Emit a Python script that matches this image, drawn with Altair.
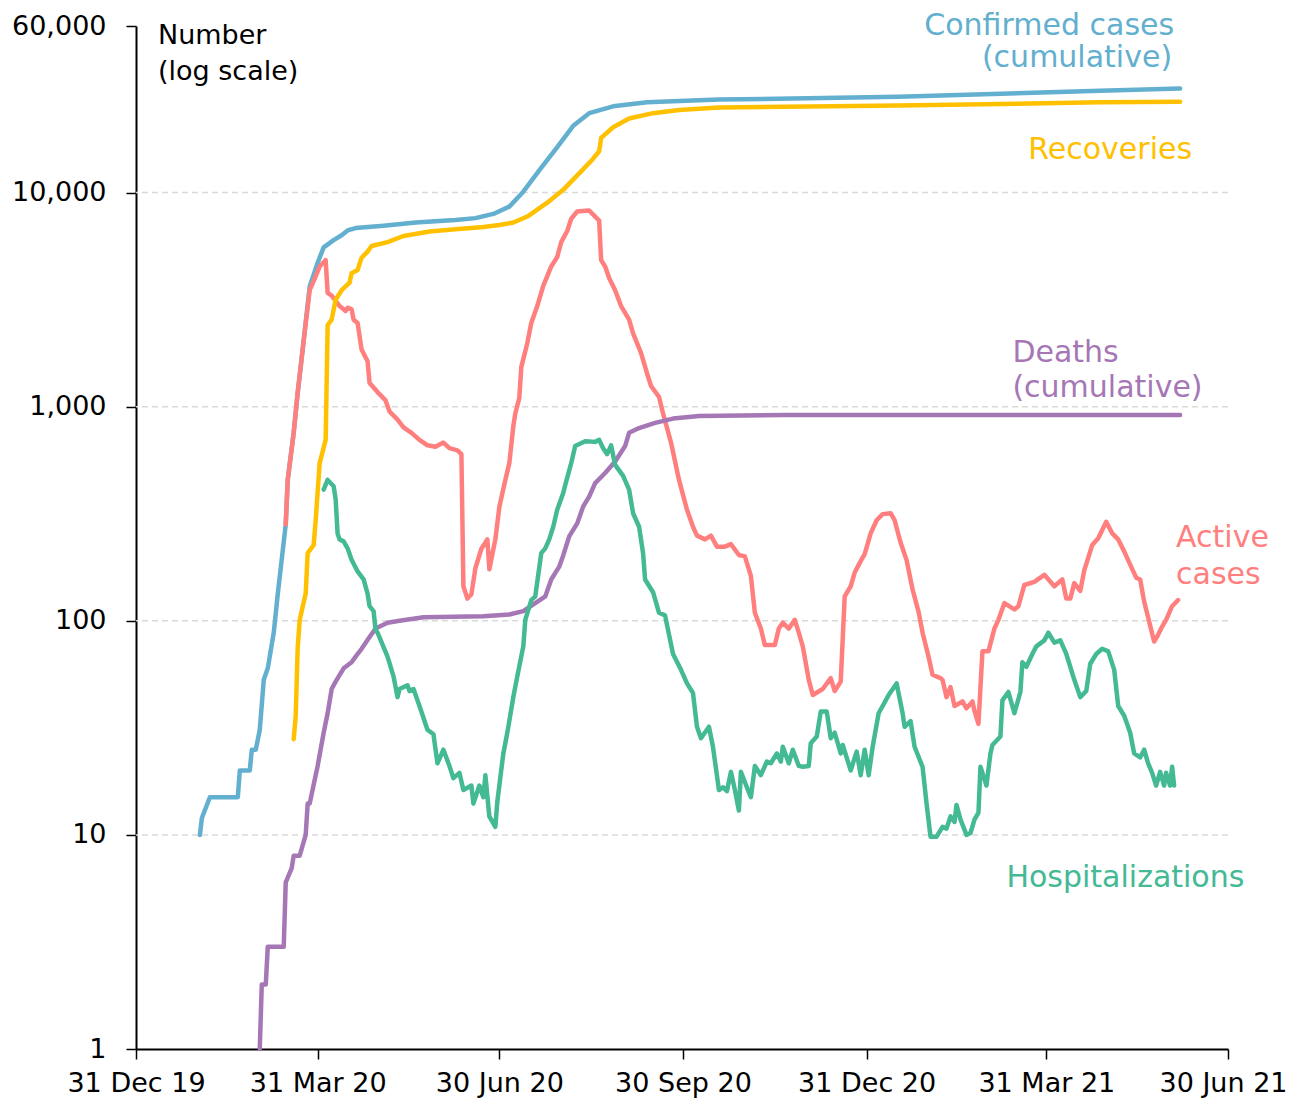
import altair as alt
import pandas as pd

FONT = "DejaVu Sans"

# ---------------- data ----------------
confirmed = [
    ("2020-02-01", 10), ("2020-02-02", 12), ("2020-02-06", 15), ("2020-02-20", 15),
    ("2020-02-21", 20), ("2020-02-26", 20), ("2020-02-27", 25), ("2020-02-29", 25),
    ("2020-03-02", 31), ("2020-03-04", 53), ("2020-03-06", 60), ("2020-03-09", 88),
    ("2020-03-11", 133), ("2020-03-15", 282), ("2020-03-16", 455), ("2020-03-19", 760),
    ("2020-03-21", 1160), ("2020-03-24", 2040), ("2020-03-27", 3640), ("2020-03-31", 4700),
    ("2020-04-03", 5550), ("2020-04-08", 6000), ("2020-04-12", 6320), ("2020-04-15", 6660),
    ("2020-04-19", 6830), ("2020-05-03", 7000), ("2020-05-19", 7250), ("2020-06-08", 7440),
    ("2020-06-18", 7600), ("2020-06-27", 7950), ("2020-07-05", 8600), ("2020-07-12", 10100),
    ("2020-07-20", 12700), ("2020-07-29", 16300), ("2020-08-06", 20500), ("2020-08-14", 23500),
    ("2020-08-26", 25300), ("2020-09-12", 26400), ("2020-10-18", 27200), ("2021-01-16", 28000),
    ("2021-04-27", 29900), ("2021-06-06", 30600),
]

recoveries = [
    ("2020-03-19", 28), ("2020-03-20", 36), ("2020-03-21", 75), ("2020-03-22", 101),
    ("2020-03-25", 134), ("2020-03-26", 207), ("2020-03-29", 226), ("2020-03-30", 295),
    ("2020-04-01", 545), ("2020-04-04", 700), ("2020-04-05", 2400), ("2020-04-07", 2550),
    ("2020-04-09", 3160), ("2020-04-12", 3500), ("2020-04-16", 3800), ("2020-04-17", 4200),
    ("2020-04-20", 4350), ("2020-04-22", 4960), ("2020-04-25", 5300), ("2020-04-27", 5630),
    ("2020-05-05", 5870), ("2020-05-13", 6270), ("2020-05-26", 6580), ("2020-06-08", 6750),
    ("2020-06-22", 6900), ("2020-06-30", 7060), ("2020-07-05", 7190), ("2020-07-07", 7250),
    ("2020-07-14", 7730), ("2020-07-24", 8970), ("2020-08-01", 10300), ("2020-08-09", 12300),
    ("2020-08-16", 14400), ("2020-08-19", 15600), ("2020-08-20", 18000), ("2020-08-26", 20200),
    ("2020-09-03", 22200), ("2020-09-15", 23500), ("2020-09-28", 24300), ("2020-10-18", 25000),
    ("2021-01-16", 25500), ("2021-04-27", 26400), ("2021-06-06", 26600),
]

deaths = [
    ("2020-03-02", 1), ("2020-03-03", 2), ("2020-03-05", 2), ("2020-03-06", 3),
    ("2020-03-14", 3), ("2020-03-15", 6), ("2020-03-18", 7), ("2020-03-19", 8),
    ("2020-03-22", 8), ("2020-03-25", 10), ("2020-03-26", 14), ("2020-03-27", 14),
    ("2020-03-30", 19), ("2020-03-31", 21), ("2020-04-03", 30), ("2020-04-05", 37),
    ("2020-04-07", 48), ("2020-04-09", 52), ("2020-04-13", 60), ("2020-04-17", 64),
    ("2020-04-19", 68), ("2020-04-22", 74), ("2020-04-26", 84), ("2020-04-29", 92),
    ("2020-05-05", 98), ("2020-05-11", 100), ("2020-05-23", 104), ("2020-06-22", 105),
    ("2020-07-05", 107), ("2020-07-12", 111), ("2020-07-18", 121), ("2020-07-23", 130),
    ("2020-07-26", 156), ("2020-07-30", 179), ("2020-08-01", 202), ("2020-08-04", 248),
    ("2020-08-08", 285), ("2020-08-11", 342), ("2020-08-14", 380), ("2020-08-17", 440),
    ("2020-08-22", 490), ("2020-08-27", 555), ("2020-09-01", 655), ("2020-09-03", 755),
    ("2020-09-08", 795), ("2020-09-16", 840), ("2020-09-25", 880), ("2020-10-08", 905),
    ("2020-11-19", 915), ("2021-04-02", 915), ("2021-06-06", 915),
]

active = [
    ("2020-03-15", 282), ("2020-03-16", 455), ("2020-03-19", 755), ("2020-03-21", 1170),
    ("2020-03-24", 2040), ("2020-03-27", 3500), ("2020-03-30", 4060), ("2020-04-01", 4520),
    ("2020-04-04", 4840), ("2020-04-05", 3400), ("2020-04-07", 3300), ("2020-04-11", 2950),
    ("2020-04-14", 2800), ("2020-04-15", 2900), ("2020-04-17", 2850), ("2020-04-18", 2550),
    ("2020-04-20", 2460), ("2020-04-22", 1850), ("2020-04-25", 1630), ("2020-04-26", 1290),
    ("2020-04-30", 1170), ("2020-05-04", 1070), ("2020-05-06", 950), ("2020-05-10", 870),
    ("2020-05-13", 800), ("2020-05-17", 755), ("2020-05-21", 700), ("2020-05-25", 660),
    ("2020-05-29", 650), ("2020-06-02", 680), ("2020-06-05", 640), ("2020-06-09", 625),
    ("2020-06-11", 600), ("2020-06-12", 145), ("2020-06-14", 127), ("2020-06-16", 133),
    ("2020-06-18", 176), ("2020-06-21", 217), ("2020-06-24", 240), ("2020-06-25", 174),
    ("2020-06-28", 240), ("2020-06-30", 340), ("2020-07-03", 455), ("2020-07-05", 545),
    ("2020-07-07", 810), ("2020-07-08", 930), ("2020-07-10", 1100), ("2020-07-11", 1530),
    ("2020-07-14", 1980), ("2020-07-16", 2460), ("2020-07-19", 2950), ("2020-07-22", 3670),
    ("2020-07-26", 4520), ("2020-07-29", 5000), ("2020-07-31", 5870), ("2020-08-03", 6620),
    ("2020-08-05", 7550), ("2020-08-08", 8160), ("2020-08-14", 8250), ("2020-08-19", 7400),
    ("2020-08-20", 4840), ("2020-08-22", 4520), ("2020-08-24", 3990), ("2020-08-27", 3500),
    ("2020-08-30", 2950), ("2020-09-03", 2550), ("2020-09-05", 2200), ("2020-09-09", 1780),
    ("2020-09-12", 1430), ("2020-09-14", 1250), ("2020-09-18", 1110), ("2020-09-20", 930),
    ("2020-09-24", 680), ("2020-09-28", 455), ("2020-10-02", 330), ("2020-10-05", 275),
    ("2020-10-07", 250), ("2020-10-11", 240), ("2020-10-14", 250), ("2020-10-17", 222),
    ("2020-10-21", 222), ("2020-10-24", 228), ("2020-10-28", 203), ("2020-10-31", 200),
    ("2020-11-03", 162), ("2020-11-05", 109), ("2020-11-08", 92), ("2020-11-10", 77),
    ("2020-11-15", 77), ("2020-11-17", 92), ("2020-11-19", 98), ("2020-11-22", 92),
    ("2020-11-25", 101), ("2020-11-27", 88), ("2020-11-29", 76), ("2020-12-02", 53),
    ("2020-12-04", 45), ("2020-12-09", 48), ("2020-12-13", 54), ("2020-12-15", 47),
    ("2020-12-18", 52), ("2020-12-20", 130), ("2020-12-23", 145), ("2020-12-25", 168),
    ("2020-12-28", 190), ("2020-12-30", 205), ("2021-01-02", 256), ("2021-01-05", 295),
    ("2021-01-08", 315), ("2021-01-12", 318), ("2021-01-14", 295), ("2021-01-17", 232),
    ("2021-01-20", 192), ("2021-01-23", 140), ("2021-01-26", 110), ("2021-01-28", 88),
    ("2021-01-31", 68), ("2021-02-02", 56), ("2021-02-06", 54), ("2021-02-07", 53),
    ("2021-02-09", 44), ("2021-02-11", 49), ("2021-02-13", 40), ("2021-02-17", 42),
    ("2021-02-19", 39), ("2021-02-22", 42), ("2021-02-23", 38), ("2021-02-25", 33),
    ("2021-02-27", 72), ("2021-03-02", 72), ("2021-03-05", 92), ("2021-03-07", 101),
    ("2021-03-10", 121), ("2021-03-15", 113), ("2021-03-17", 117), ("2021-03-20", 147),
    ("2021-03-25", 152), ("2021-03-30", 164), ("2021-04-04", 145), ("2021-04-08", 156),
    ("2021-04-10", 127), ("2021-04-12", 127), ("2021-04-14", 150), ("2021-04-17", 138),
    ("2021-04-19", 172), ("2021-04-23", 226), ("2021-04-26", 243), ("2021-04-30", 290),
    ("2021-05-03", 256), ("2021-05-06", 240), ("2021-05-09", 211), ("2021-05-12", 183),
    ("2021-05-15", 159), ("2021-05-17", 156), ("2021-05-19", 123), ("2021-05-24", 80),
    ("2021-05-26", 86), ("2021-05-28", 94), ("2021-05-30", 101), ("2021-06-02", 117),
    ("2021-06-05", 125),
]

hospitalizations = [
    ("2020-04-03", 410), ("2020-04-05", 455), ("2020-04-08", 425), ("2020-04-09", 370),
    ("2020-04-10", 255), ("2020-04-11", 240), ("2020-04-13", 235), ("2020-04-15", 218),
    ("2020-04-17", 193), ("2020-04-20", 170), ("2020-04-23", 156), ("2020-04-25", 134),
    ("2020-04-26", 117), ("2020-04-28", 111), ("2020-04-29", 91), ("2020-04-30", 88),
    ("2020-05-05", 68), ("2020-05-08", 55), ("2020-05-10", 44), ("2020-05-11", 48),
    ("2020-05-15", 50), ("2020-05-16", 47), ("2020-05-18", 48), ("2020-05-21", 40),
    ("2020-05-25", 31), ("2020-05-28", 29.5), ("2020-05-30", 21.6), ("2020-06-02", 25),
    ("2020-06-05", 21), ("2020-06-07", 18.4), ("2020-06-10", 19.5), ("2020-06-12", 16.2),
    ("2020-06-16", 17), ("2020-06-17", 14), ("2020-06-20", 17), ("2020-06-22", 15),
    ("2020-06-23", 19), ("2020-06-25", 12.2), ("2020-06-28", 10.9), ("2020-06-29", 14.3),
    ("2020-07-02", 24), ("2020-07-04", 30), ("2020-07-07", 44), ("2020-07-09", 55),
    ("2020-07-12", 76), ("2020-07-13", 101), ("2020-07-16", 125), ("2020-07-18", 130),
    ("2020-07-21", 207), ("2020-07-23", 218), ("2020-07-25", 240), ("2020-07-27", 275),
    ("2020-07-29", 330), ("2020-08-01", 395), ("2020-08-02", 430), ("2020-08-05", 545),
    ("2020-08-07", 655), ("2020-08-12", 690), ("2020-08-17", 685), ("2020-08-19", 700),
    ("2020-08-21", 640), ("2020-08-23", 600), ("2020-08-25", 660), ("2020-08-27", 535),
    ("2020-08-31", 475), ("2020-09-03", 410), ("2020-09-05", 318), ("2020-09-08", 275),
    ("2020-09-10", 207), ("2020-09-11", 156), ("2020-09-15", 136), ("2020-09-18", 109),
    ("2020-09-21", 106), ("2020-09-25", 70), ("2020-09-29", 59), ("2020-10-02", 51),
    ("2020-10-05", 46), ("2020-10-07", 32), ("2020-10-09", 28.3), ("2020-10-13", 32),
    ("2020-10-15", 25.8), ("2020-10-18", 16.2), ("2020-10-20", 16.7), ("2020-10-22", 16),
    ("2020-10-24", 19.7), ("2020-10-26", 16.2), ("2020-10-28", 13), ("2020-10-29", 19.7),
    ("2020-11-01", 16.7), ("2020-11-03", 15), ("2020-11-05", 21), ("2020-11-08", 19),
    ("2020-11-11", 22), ("2020-11-13", 21.6), ("2020-11-16", 24), ("2020-11-18", 22),
    ("2020-11-19", 25.8), ("2020-11-22", 21.6), ("2020-11-24", 25), ("2020-11-27", 21),
    ("2020-11-29", 20.8), ("2020-12-02", 21), ("2020-12-03", 26.8), ("2020-12-06", 28.8),
    ("2020-12-08", 37.7), ("2020-12-11", 37.7), ("2020-12-13", 28.3), ("2020-12-15", 30),
    ("2020-12-18", 24), ("2020-12-19", 26.3), ("2020-12-23", 20), ("2020-12-26", 24.5),
    ("2020-12-28", 19), ("2020-12-30", 25), ("2021-01-01", 19), ("2021-01-03", 25.8),
    ("2021-01-06", 37), ("2021-01-08", 40), ("2021-01-11", 45), ("2021-01-15", 51),
    ("2021-01-18", 37), ("2021-01-19", 32), ("2021-01-22", 34), ("2021-01-24", 25.8),
    ("2021-01-28", 20.8), ("2021-01-30", 14), ("2021-02-01", 9.8), ("2021-02-04", 9.8),
    ("2021-02-07", 10.9), ("2021-02-09", 10.7), ("2021-02-11", 12.2), ("2021-02-13", 11.5),
    ("2021-02-14", 13.8), ("2021-02-16", 11.8), ("2021-02-19", 10), ("2021-02-21", 10.2),
    ("2021-02-23", 11.8), ("2021-02-25", 12.7), ("2021-02-26", 20.8), ("2021-03-01", 17),
    ("2021-03-03", 24), ("2021-03-04", 26.3), ("2021-03-08", 28.8), ("2021-03-09", 42.5),
    ("2021-03-12", 46.5), ("2021-03-15", 37), ("2021-03-18", 46.5), ("2021-03-19", 64),
    ("2021-03-21", 61), ("2021-03-24", 70), ("2021-03-26", 76), ("2021-03-30", 81),
    ("2021-04-01", 88), ("2021-04-04", 79), ("2021-04-07", 81), ("2021-04-10", 70),
    ("2021-04-14", 53), ("2021-04-17", 44), ("2021-04-20", 47), ("2021-04-22", 63),
    ("2021-04-25", 70), ("2021-04-28", 74), ("2021-05-01", 72), ("2021-05-04", 59),
    ("2021-05-06", 40), ("2021-05-09", 36), ("2021-05-12", 30), ("2021-05-14", 24),
    ("2021-05-17", 23), ("2021-05-19", 25), ("2021-05-21", 21.6), ("2021-05-23", 19.5),
    ("2021-05-25", 17), ("2021-05-27", 19.7), ("2021-05-29", 17), ("2021-05-30", 19.5),
    ("2021-06-01", 17), ("2021-06-02", 20.8), ("2021-06-03", 17),
]

y_ticks = [1, 10, 100, 1000, 10000, 60000]
grid_values = [10, 100, 1000, 10000]
x_tick_dates = [(2019, 12, 31), (2020, 3, 31), (2020, 6, 30), (2020, 9, 30),
                (2020, 12, 31), (2021, 3, 31), (2021, 6, 30)]

BLUE, YELLOW, PURPLE, RED, GREEN = "#62AFCF", "#FFC000", "#A577B5", "#FF7F7F", "#43B994"

# label anchors: (text, date, value, colour)
labels_right = [
    ("Confirmed cases", "2021-06-03", 54700, BLUE),
    ("(cumulative)", "2021-06-02", 38800, BLUE),
    ("Recoveries", "2021-06-12", 14400, YELLOW),
]
labels_left = [
    ("Deaths", "2021-03-14", 1622, PURPLE),
    ("(cumulative)", "2021-03-14", 1114, PURPLE),
    ("Active", "2021-06-04", 222, RED),
    ("cases", "2021-06-04", 149, RED),
    ("Hospitalizations", "2021-03-11", 5.71, GREEN),
]
labels_axis = [
    ("Number", "2020-01-11", 49200, "black"),
    ("(log scale)", "2020-01-11", 33700, "black"),
]

# ---------------- chart ----------------
def dt(y, m, d):
    return alt.DateTime(year=y, month=m, date=d, utc=True)

x_scale = alt.Scale(type="utc", domain=[dt(2019, 12, 31), dt(2021, 6, 30)])
y_scale = alt.Scale(type="log", domain=[1, 60000], nice=False)

x_axis = alt.Axis(
    values=[dt(*t) for t in x_tick_dates],
    labelExpr="utcFormat(datum.value, '%d %b %y')",
    title=None, grid=False, labelOverlap=False, labelFlush=False, labelBound=False,
    domainColor="black", domainWidth=2,
    tickColor="black", tickWidth=1.5, tickSize=10,
    labelFont=FONT, labelFontSize=27, labelColor="black", labelPadding=11,
    labelOffset={"condition": {"test": "datum.value > 1620000000000", "value": -5}, "value": 0},
)
y_axis = alt.Axis(
    values=y_ticks, format=",", title=None, grid=False,
    labelOverlap=False, labelFlush=False, labelBound=False,
    domainColor="black", domainWidth=2,
    tickColor="black", tickWidth=1.5, tickSize=10,
    labelFont=FONT, labelFontSize=27, labelColor="black", labelPadding=20,
)

grid = alt.Chart(pd.DataFrame({"v": grid_values})).mark_rule(
    color="#D9D9D9", strokeWidth=1.5, strokeDash=[6, 4]
).encode(y=alt.Y("v:Q", scale=y_scale, axis=y_axis))

def line(data, color):
    df = pd.DataFrame(data, columns=["date", "value"])
    return alt.Chart(df).mark_line(
        color=color, strokeWidth=4.5, strokeCap="round", strokeJoin="round"
    ).encode(
        x=alt.X("date:T", scale=x_scale, axis=x_axis),
        y=alt.Y("value:Q", scale=y_scale, axis=y_axis),
    )

def texts(rows, align, size):
    df = pd.DataFrame(rows, columns=["text", "date", "value", "color"])
    return alt.Chart(df).mark_text(
        align=align, baseline="alphabetic", font=FONT, fontSize=size
    ).encode(
        x=alt.X("date:T", scale=x_scale, axis=x_axis),
        y=alt.Y("value:Q", scale=y_scale, axis=y_axis),
        text="text:N",
        color=alt.Color("color:N", scale=None),
    )

chart = alt.layer(
    grid,
    line(confirmed, BLUE),
    line(active, RED),
    line(recoveries, YELLOW),
    line(deaths, PURPLE),
    line(hospitalizations, GREEN),
    texts(labels_right, "right", 30),
    texts(labels_left, "left", 30),
    texts(labels_axis, "left", 27),
).properties(
    width=1092, height=1023,
    background="white",
    autosize=alt.AutoSizeParams(type="none"),
    padding={"left": 128, "top": 18, "right": 60, "bottom": 50},
).configure_view(stroke=None)

chart.save("out.html", embed_options={"renderer": "svg", "actions": False})
